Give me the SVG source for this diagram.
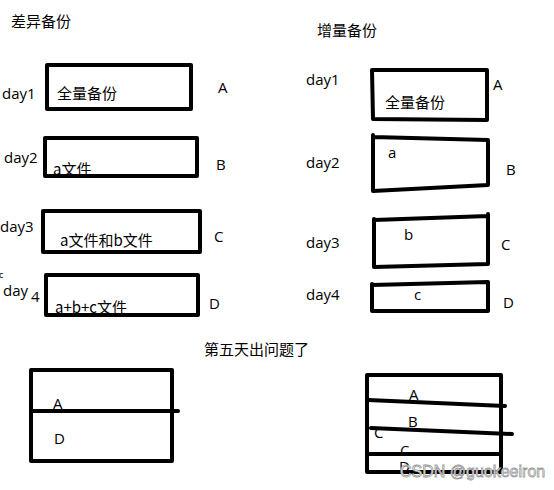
<svg xmlns="http://www.w3.org/2000/svg" width="554" height="490" viewBox="0 0 554 490">
<style>
.t{font-family:"Open Sans","Noto Sans CJK SC",sans-serif;font-size:15px;fill:#000}
.c{font-family:"Noto Sans CJK SC","Noto Sans",sans-serif;font-size:15px;fill:#000}
.b{fill:none;stroke:#000;stroke-width:4;stroke-linejoin:round;stroke-linecap:round}
.wm{font-family:"Liberation Sans","Noto Sans",sans-serif;font-size:16px;fill:#fff;stroke:#999;stroke-width:0.8}
</style>
<rect width="554" height="490" fill="#fff"/>
<text class="c" x="11" y="27">差异备份</text>
<text class="c" x="317" y="36">增量备份</text>
<text class="c" x="204" y="355">第五天出问题了</text>

<g id="diff-day1">
<text class="t" x="2" y="99">day1</text>
<text class="c" x="57" y="99">全量备份</text>
<rect class="b" x="47" y="65" width="144" height="44"/>
<text class="t" x="218" y="93">A</text>
</g>
<g id="diff-day2">
<text class="t" x="4" y="163">day2</text>
<text class="c" x="53" y="175">a文件</text>
<rect class="b" x="45" y="138" width="152" height="38"/>
<text class="t" x="216" y="170">B</text>
</g>
<g id="diff-day3">
<text class="t" x="0" y="232">day3</text>
<text class="c" x="60" y="246">a文件和b文件</text>
<rect class="b" x="43" y="211" width="157" height="41"/>
<text class="t" x="214" y="242">C</text>
</g>
<g id="diff-day4">
<text class="t" x="-1" y="278" style="font-size:9px">c</text>
<text class="t" x="3" y="296">day</text>
<text class="t" x="31" y="302">4</text>
<text class="c" x="55" y="313">a+b+c文件</text>
<rect class="b" x="46" y="275" width="152" height="40"/>
<text class="t" x="209" y="309">D</text>
</g>

<g id="inc-day1">
<text class="t" x="306" y="85">day1</text>
<path class="b" d="M372 70 L487 70 L487 120 L373 119 L372 70"/>
<text class="c" x="385" y="108">全量备份</text>
<text class="t" x="493" y="90">A</text>
</g>
<g id="inc-day2">
<text class="t" x="306" y="168">day2</text>
<path class="b" d="M373 135 L373 191 L488 185 L488 140 L373 137"/>
<text class="t" x="388" y="158">a</text>
<text class="t" x="506" y="175">B</text>
</g>
<g id="inc-day3">
<text class="t" x="306" y="248">day3</text>
<path class="b" d="M374 219 L374 267 L488 264 L488 214 M488 216 L374 220"/>
<text class="t" x="404" y="240">b</text>
<text class="t" x="501" y="250">C</text>
</g>
<g id="inc-day4">
<text class="t" x="306" y="300">day4</text>
<path class="b" d="M372 284 L372 311 L488 311 L488 282 L372 285"/>
<text class="t" x="414" y="300">c</text>
<text class="t" x="503" y="308">D</text>
</g>

<g id="restore-diff">
<rect class="b" x="31" y="370" width="141" height="91"/>
<path class="b" d="M31 411 L178 411"/>
<text class="t" x="53" y="409">A</text>
<text class="t" x="54" y="444">D</text>
</g>
<g id="restore-inc">
<rect class="b" x="367" y="375" width="134" height="97"/>
<path class="b" d="M368 400 L505 406"/>
<path class="b" d="M371 428 L512 434"/>
<path class="b" d="M368 454 L501 454"/>
<text class="t" x="409" y="400">A</text>
<text class="t" x="408" y="427">B</text>
<text class="t" x="374" y="438">C</text>
<text class="t" x="400" y="456">C</text>
<text class="t" x="399" y="472">D</text>
</g>
<text class="wm" x="400" y="477">CSDN @guokeeiron</text>
</svg>
